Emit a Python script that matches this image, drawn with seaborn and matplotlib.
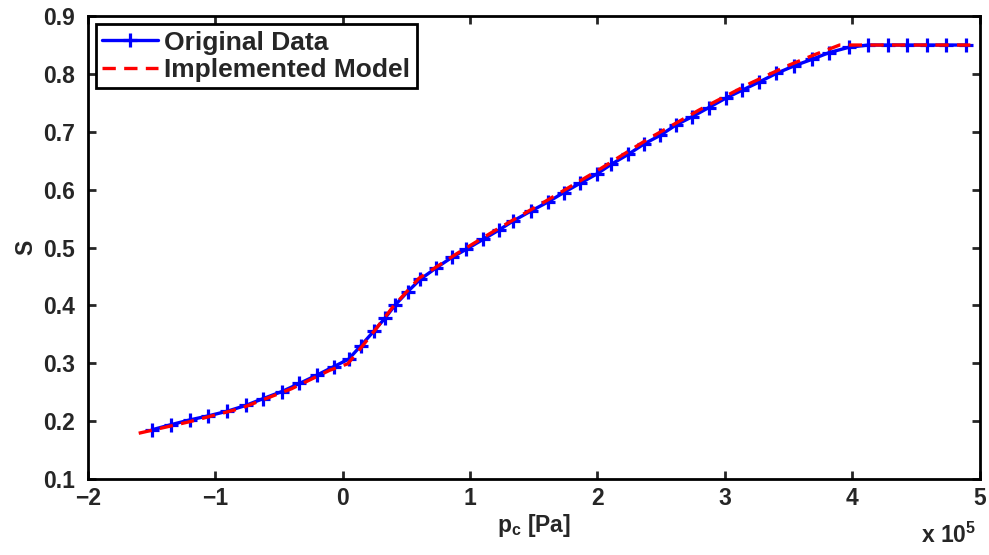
import numpy as np
import pandas as pd
import matplotlib
matplotlib.use("Agg")
import matplotlib.pyplot as plt
import seaborn as sns

# Original data (p_c in units of 1e5 Pa, saturation S)
orig_pc = [-1.496, -1.344, -1.200, -1.055, -0.906, -0.761, -0.622, -0.478, -0.339, -0.197,
           -0.071, 0.047, 0.142, 0.243, 0.333, 0.414, 0.512, 0.609, 0.735, 0.858,
           0.971, 1.102, 1.225, 1.339, 1.477, 1.614, 1.735, 1.863, 1.994, 2.109,
           2.241, 2.365, 2.493, 2.617, 2.743, 2.874, 3.005, 3.136, 3.268, 3.404,
           3.543, 3.680, 3.819, 3.971, 4.126, 4.278, 4.430, 4.585, 4.737, 4.894]
orig_S = [0.185, 0.194, 0.202, 0.209, 0.217, 0.227, 0.239, 0.251, 0.265, 0.280,
          0.294, 0.307, 0.330, 0.355, 0.378, 0.401, 0.424, 0.445, 0.465, 0.483,
          0.497, 0.514, 0.530, 0.546, 0.563, 0.579, 0.595, 0.611, 0.627, 0.644,
          0.661, 0.679, 0.694, 0.712, 0.726, 0.742, 0.758, 0.772, 0.786, 0.801,
          0.814, 0.825, 0.837, 0.846, 0.850, 0.850, 0.850, 0.850, 0.850, 0.850]

# Implemented model
model_pc = [-1.60, -1.20, -0.80, -0.40, -0.10, 0.04, 0.12, 0.25, 0.40, 0.60,
            0.90, 1.20, 1.60, 2.00, 2.40, 2.80, 3.20, 3.50, 3.70, 3.90, 4.98]
model_S = [0.179, 0.199, 0.222, 0.256, 0.288, 0.299, 0.320, 0.356, 0.399, 0.447,
           0.490, 0.530, 0.581, 0.633, 0.688, 0.738, 0.784, 0.815, 0.833, 0.850, 0.850]

x_ticks = [-2, -1, 0, 1, 2, 3, 4, 5]
y_ticks = [0.1, 0.2, 0.3, 0.4, 0.5, 0.6, 0.7, 0.8, 0.9]

sns.set_style("white")
plt.rcParams['font.family'] = ['Liberation Sans', 'DejaVu Sans']
plt.rcParams['font.weight'] = 'bold'
plt.rcParams['mathtext.fontset'] = 'custom'
plt.rcParams['mathtext.bf'] = 'Liberation Sans:bold'
plt.rcParams['mathtext.rm'] = 'Liberation Sans:bold'
plt.rcParams['mathtext.default'] = 'bf'

TICK_FS = 16.5
LEG_FS = 19

df_orig = pd.DataFrame({"pc": orig_pc, "S": orig_S})
df_model = pd.DataFrame({"pc": model_pc, "S": model_S})

fig = plt.figure(figsize=(9.89, 5.55), dpi=100)
ax = fig.add_axes([0.0887, 0.137, 0.902, 0.834])

sns.lineplot(data=df_orig, x="pc", y="S", ax=ax, sort=False, color="#0000ff",
             linewidth=2.4, marker="+", markersize=10, markeredgewidth=2.3,
             markeredgecolor="#0000ff", label="Original Data")
sns.lineplot(data=df_model, x="pc", y="S", ax=ax, sort=False, color="#ff0000",
             linewidth=2.4, linestyle=(0, (4, 2.5)), label="Implemented Model")

ax.set_xlim(-2, 5)
ax.set_ylim(0.1, 0.9)
ax.set_xticks(x_ticks)
ax.set_yticks(y_ticks)
ax.set_xticklabels([f"{t}".replace("-", "\u2212") for t in x_ticks], fontsize=TICK_FS, fontweight='bold')
ax.set_yticklabels([f"{t:.1f}" for t in y_ticks], fontsize=TICK_FS, fontweight='bold')
ax.tick_params(axis="y", direction="in", length=6, width=2, left=True, right=True, pad=9)
ax.tick_params(axis="x", direction="in", length=6, width=2, bottom=True, top=True, pad=6)
for s in ax.spines.values():
    s.set_linewidth(2)
    s.set_color("black")

ax.set_xlabel("p$_\\mathbf{c}$ [Pa]", fontsize=TICK_FS, fontweight='bold', labelpad=1)
ax.set_ylabel("S", fontsize=TICK_FS, fontweight='bold', labelpad=4)
fig.text(0.987, 0.012, "x 10$^\\mathbf{5}$", ha="right", va="bottom",
         fontsize=TICK_FS, fontweight='bold')

leg = ax.legend(loc="upper left", fontsize=LEG_FS, frameon=True, fancybox=False,
                framealpha=1, edgecolor="black", borderpad=0.25, handlelength=2.1,
                handletextpad=0.25, labelspacing=0.12, borderaxespad=0.3)
leg.get_frame().set_linewidth(2)
for t in leg.get_texts():
    t.set_fontweight('bold')

fig.savefig("out.png", dpi=100)
